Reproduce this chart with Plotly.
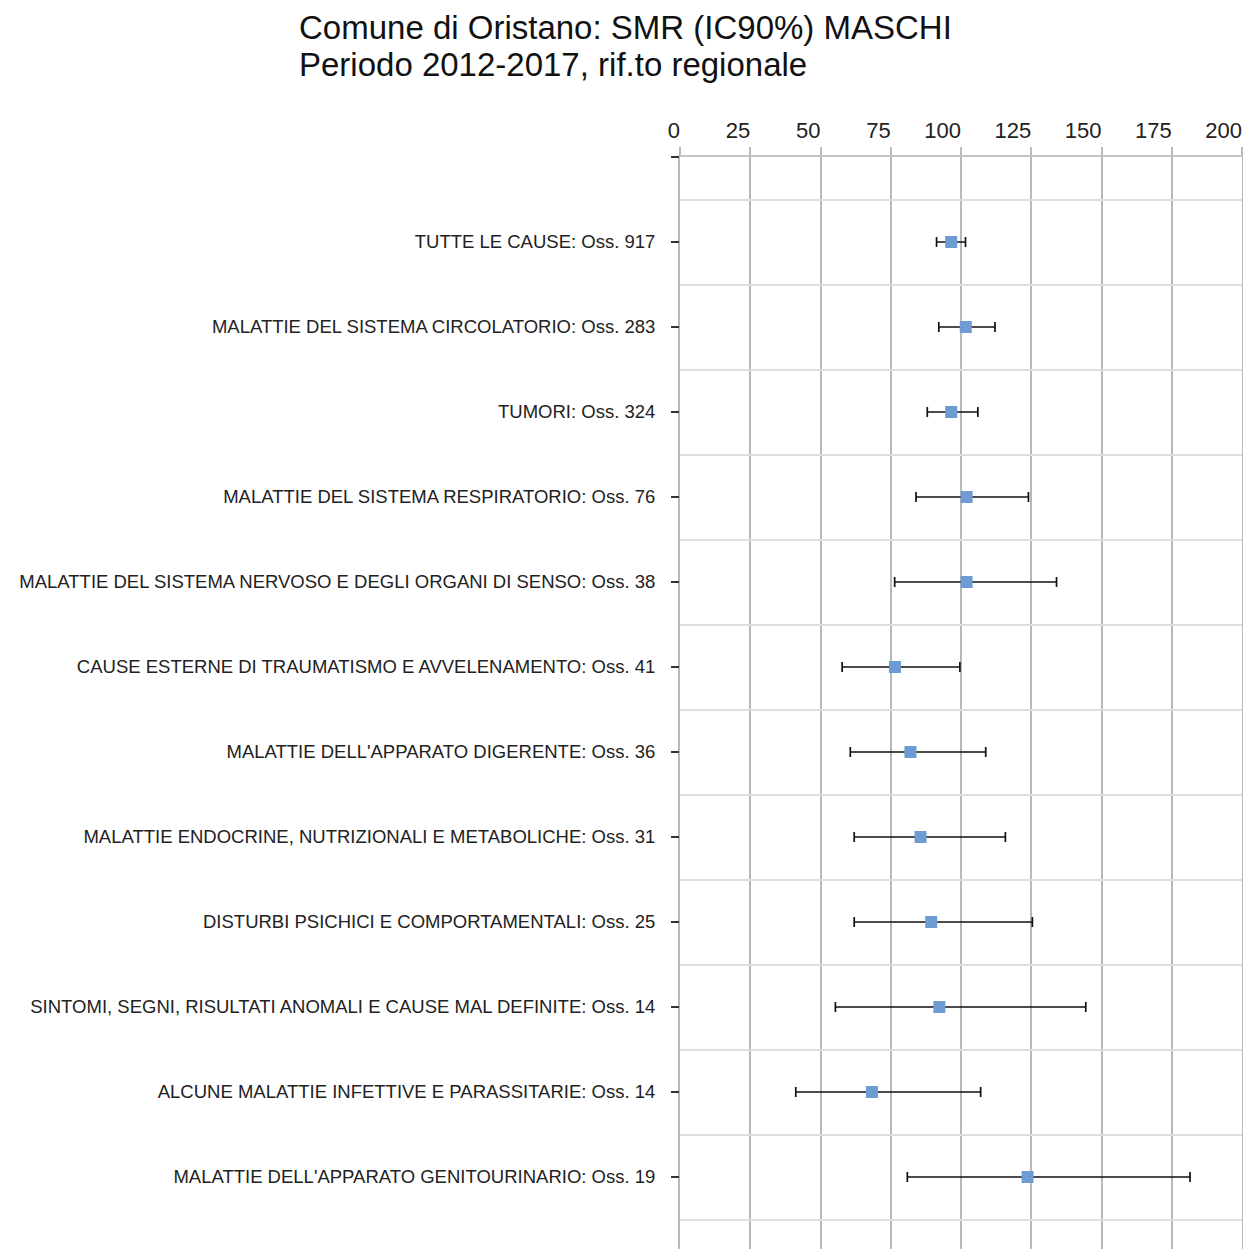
import plotly.graph_objects as go

categories = [
    "TUTTE LE CAUSE: Oss. 917",
    "MALATTIE DEL SISTEMA CIRCOLATORIO: Oss. 283",
    "TUMORI: Oss. 324",
    "MALATTIE DEL SISTEMA RESPIRATORIO: Oss. 76",
    "MALATTIE DEL SISTEMA NERVOSO E DEGLI ORGANI DI SENSO: Oss. 38",
    "CAUSE ESTERNE DI TRAUMATISMO E AVVELENAMENTO: Oss. 41",
    "MALATTIE DELL'APPARATO DIGERENTE: Oss. 36",
    "MALATTIE ENDOCRINE, NUTRIZIONALI E METABOLICHE: Oss. 31",
    "DISTURBI PSICHICI E COMPORTAMENTALI: Oss. 25",
    "SINTOMI, SEGNI, RISULTATI ANOMALI E CAUSE MAL DEFINITE: Oss. 14",
    "ALCUNE MALATTIE INFETTIVE E PARASSITARIE: Oss. 14",
    "MALATTIE DELL'APPARATO GENITOURINARIO: Oss. 19",
]
smr = [96.5, 101.7, 96.5, 102.0, 102.0, 76.5, 82.0, 85.6, 89.4, 92.3, 68.3, 123.7]
ic_low = [91.3, 92.1, 88.0, 84.0, 76.4, 57.7, 60.6, 62.0, 62.0, 55.3, 41.2, 80.9]
ic_high = [101.6, 112.1, 106.0, 124.0, 134.0, 99.6, 108.8, 115.8, 125.4, 144.4, 107.0, 181.5]
x_ticks = [0, 25, 50, 75, 100, 125, 150, 175, 200]
reference = 100
title_lines = ["Comune di Oristano: SMR (IC90%) MASCHI", "Periodo 2012-2017, rif.to regionale"]

positions = list(range(1, len(categories) + 1))
err_plus = [h - v for h, v in zip(ic_high, smr)]
err_minus = [v - l for v, l in zip(smr, ic_low)]
grid_half = [0] + [p - 0.5 for p in positions] + [positions[-1] + 0.5]
# labels right-aligned to the gridline: pad with non-breaking spaces (2 per digit)
x_ticktext = [str(t) + "\u00a0" * (2 * len(str(t))) for t in x_ticks]

# page body has an 8px margin: figure is sized so the page fits the visible window
W, H = 1235, 1241
L, T, R = 672, 149, 1
PLOT_W, PLOT_H = W - R - L, H - T
ROW = 85  # pixels per category row
yrange = [PLOT_H / ROW, 0]

fig = go.Figure()
# invisible helper trace on the grid axis
fig.add_trace(go.Scatter(x=smr, y=positions, mode="markers", marker=dict(opacity=0),
                         showlegend=False, hoverinfo="skip", yaxis="y"))
fig.add_trace(go.Scatter(
    x=smr, y=positions, mode="markers", yaxis="y2",
    marker=dict(symbol="square", size=12, color="#6e9bd1"),
    error_x=dict(type="data", symmetric=False, array=err_plus, arrayminus=err_minus,
                 color="#111111", thickness=1.7, width=5),
    showlegend=False, hoverinfo="x+y",
))

fig.add_shape(type="line", xref="x", yref="paper", x0=reference, x1=reference, y0=0, y1=1,
              line=dict(color="#000000", width=2), layer="between")

for i, line in enumerate(title_lines):
    py = 28 + 36 * i - 8
    fig.add_annotation(text=line, xref="paper", yref="paper",
                       x=(289 - L) / PLOT_W, y=(H - py) / PLOT_H,
                       xanchor="left", yanchor="middle", showarrow=False,
                       font=dict(size=33, color="#111111", family="Liberation Sans, Arial, sans-serif"))

fig.update_layout(
    width=W, height=H,
    margin=dict(l=L, r=R, t=T, b=0, autoexpand=False),
    paper_bgcolor="white", plot_bgcolor="white",
    font=dict(family="Liberation Sans, Arial, sans-serif", color="#222222"),
    xaxis=dict(
        side="top", range=[0, 200], tickvals=x_ticks, ticktext=x_ticktext, tickangle=0,
        showgrid=True, gridcolor="#b8b8b8", gridwidth=1.5,
        ticks="outside", ticklen=8, tickcolor="#b8b8b8", tickwidth=1.5,
        tickfont=dict(size=22, color="#222222"), ticklabeloverflow="allow",
        zeroline=False, showline=True, linecolor="#c4c4c4", linewidth=1.5,
        automargin=False,
    ),
    yaxis=dict(
        range=yrange, tickvals=grid_half, ticktext=[""] * len(grid_half),
        showgrid=True, gridcolor="#dedede", gridwidth=2, ticks="",
        zeroline=False, showline=True, linecolor="#b8b8b8", linewidth=1.5, mirror=True,
        automargin=False,
    ),
    yaxis2=dict(
        overlaying="y", side="left", anchor="x",
        range=yrange, tickvals=[0] + positions, ticktext=[""] + categories,
        showgrid=False, zeroline=False, showline=False,
        ticks="outside", ticklen=8, tickcolor="#333333", tickwidth=1.5,
        ticklabelstandoff=12, automargin=False,
        tickfont=dict(size=18.5, color="#222222"),
    ),
)

fig.write_html("out.html")
